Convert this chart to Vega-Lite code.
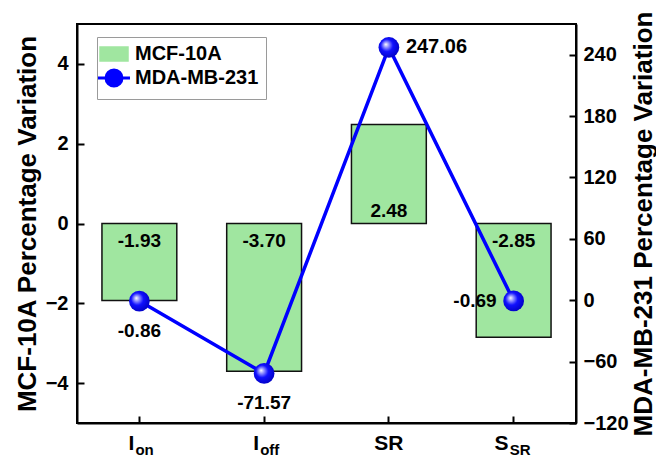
{
  "$schema": "https://vega.github.io/schema/vega-lite/v6.json",
  "width": 499,
  "height": 399,
  "autosize": {"type": "none"},
  "padding": {"left": 77, "top": 24, "right": 80, "bottom": 34},
  "background": "#ffffff",
  "config": {
    "font": "Liberation Sans",
    "view": {"stroke": "#000000", "strokeWidth": 2},
    "axis": {
      "domainColor": "#000000",
      "domainWidth": 2,
      "tickColor": "#000000",
      "tickWidth": 2,
      "tickSize": -7,
      "labelFont": "Liberation Sans",
      "labelFontSize": 20,
      "labelFontWeight": "bold",
      "labelColor": "#000000",
      "titleFont": "Liberation Sans",
      "titleFontSize": 26,
      "titleFontWeight": "bold",
      "titleColor": "#000000",
      "grid": false
    },
    "legend": {
      "orient": "none",
      "legendX": 20,
      "legendY": 13,
      "padding": 7,
      "fillColor": "#ffffff",
      "strokeColor": "#9a9a9a",
      "labelFont": "Liberation Sans",
      "labelFontSize": 20,
      "labelFontWeight": "bold",
      "labelColor": "#000000",
      "labelOffset": 11,
      "labelLimit": 300,
      "rowPadding": 0,
      "symbolSize": 400,
      "symbolOpacity": 1,
      "symbolType": {"expr": "datum.value === 'MCF-10A' ? 'M-1.4,-0.7H1.4V0.7H-1.4Z' : 'M-1.6,0H1.6M0.8,0A0.8,0.8,0,1,1,-0.8,0A0.8,0.8,0,1,1,0.8,0Z'"},
      "symbolFillColor": {"expr": "datum.value === 'MCF-10A' ? '#a0e6a0' : {gradient: 'radial', x1: 0.46, y1: 0.36, r1: 0, x2: 0.5, y2: 0.5, r2: 0.3, stops: [{offset: 0, color: '#ffffff'}, {offset: 0.25, color: '#7070ff'}, {offset: 0.55, color: '#1010ff'}, {offset: 1, color: '#0000c8'}]}"},
      "symbolStrokeColor": {"expr": "datum.value === 'MCF-10A' ? '#111111' : '#0000ff'"},
      "symbolStrokeWidth": {"expr": "datum.value === 'MCF-10A' ? 1.5 : 3"}
    },
    "text": {"font": "Liberation Sans", "fontWeight": "bold", "color": "#000000"}
  },
  "data": {
    "values": [
      {"cat": "Ion", "main": "I", "sub": "on", "mcf": -1.93, "mda": -0.86},
      {"cat": "Ioff", "main": "I", "sub": "off", "mcf": -3.70, "mda": -71.57},
      {"cat": "SR", "main": "SR", "sub": "", "mcf": 2.48, "mda": 247.06},
      {"cat": "SSR", "main": "S", "sub": "SR", "mcf": -2.85, "mda": -0.69}
    ]
  },
  "transform": [
    {"calculate": "replace(format(datum.mcf, '.2f'), '\u2212', '-')", "as": "mcfText"},
    {"calculate": "replace(format(datum.mda, '.2f'), '\u2212', '-')", "as": "mdaText"}
  ],
  "encoding": {
    "x": {
      "field": "cat",
      "type": "nominal",
      "sort": null,
      "scale": {"paddingInner": 0.4, "paddingOuter": 0.2},
      "axis": {"labels": false, "title": null}
    }
  },
  "layer": [
    {
      "mark": {"type": "bar", "stroke": "#111111", "strokeWidth": 1.5, "opacity": 1},
      "encoding": {
        "y": {
          "field": "mcf",
          "type": "quantitative",
          "scale": {"domain": [-5, 5], "nice": false, "zero": false},
          "axis": {
            "orient": "left",
            "values": [-4, -2, 0, 2, 4],
            "title": "MCF-10A Percentage Variation",
            "labelPadding": 16,
            "titlePadding": 5
          }
        },
        "y2": {"datum": 0},
        "color": {
          "datum": "MCF-10A",
          "type": "nominal",
          "scale": {"domain": ["MCF-10A", "MDA-MB-231"], "range": ["#a0e6a0", "#0000ff"]},
          "legend": {"title": null, "zindex": 2}
        }
      }
    },
    {
      "transform": [{"filter": "datum.mcf < 0"}],
      "mark": {"type": "text", "fontSize": 19, "baseline": "alphabetic", "dy": 23},
      "encoding": {
        "y": {"datum": 0, "type": "quantitative", "scale": {"domain": [-5, 5], "nice": false, "zero": false}, "axis": null},
        "text": {"field": "mcfText"}
      }
    },
    {
      "transform": [{"filter": "datum.mcf >= 0"}],
      "mark": {"type": "text", "fontSize": 19, "baseline": "alphabetic", "dy": -7},
      "encoding": {
        "y": {"datum": 0, "type": "quantitative", "scale": {"domain": [-5, 5], "nice": false, "zero": false}, "axis": null},
        "text": {"field": "mcfText"}
      }
    },
    {
      "transform": [{"filter": "datum.sub != ''"}],
      "mark": {"type": "text", "fontSize": 21, "align": "right", "baseline": "alphabetic", "dx": -5, "dy": 27},
      "encoding": {
        "y": {"datum": -5, "type": "quantitative", "scale": {"domain": [-5, 5], "nice": false, "zero": false}, "axis": null},
        "text": {"field": "main"}
      }
    },
    {
      "transform": [{"filter": "datum.sub == ''"}],
      "mark": {"type": "text", "fontSize": 21, "align": "center", "baseline": "alphabetic", "dy": 27},
      "encoding": {
        "y": {"datum": -5, "type": "quantitative", "scale": {"domain": [-5, 5], "nice": false, "zero": false}, "axis": null},
        "text": {"field": "main"}
      }
    },
    {
      "transform": [{"filter": "datum.sub != ''"}],
      "mark": {"type": "text", "fontSize": 15, "align": "left", "baseline": "alphabetic", "dx": -4, "dy": 32},
      "encoding": {
        "y": {"datum": -5, "type": "quantitative", "scale": {"domain": [-5, 5], "nice": false, "zero": false}, "axis": null},
        "text": {"field": "sub"}
      }
    },
    {
      "mark": {"type": "line", "strokeWidth": 3.5},
      "encoding": {
        "y": {
          "field": "mda",
          "type": "quantitative",
          "scale": {"domain": [-120, 270], "nice": false, "zero": false},
          "axis": {
            "orient": "right",
            "values": [-120, -60, 0, 60, 120, 180, 240],
            "title": "MDA-MB-231 Percentage Variation",
            "titleAngle": -90,
            "titleBaseline": "top",
            "labelPadding": 14,
            "titlePadding": 2
          }
        },
        "color": {"datum": "MDA-MB-231", "type": "nominal", "legend": {"title": null, "zindex": 2}}
      }
    },
    {
      "mark": {
        "type": "point",
        "filled": true,
        "size": 430,
        "opacity": 1,
        "strokeWidth": 0,
        "fill": {
          "gradient": "radial",
          "x1": 0.35, "y1": 0.35, "r1": 0,
          "x2": 0.45, "y2": 0.45, "r2": 0.6,
          "stops": [
            {"offset": 0, "color": "#ffffff"},
            {"offset": 0.2, "color": "#9a9aff"},
            {"offset": 0.5, "color": "#1010ff"},
            {"offset": 1, "color": "#0000c0"}
          ]
        }
      },
      "encoding": {
        "y": {"field": "mda", "type": "quantitative", "scale": {"domain": [-120, 270], "nice": false, "zero": false}, "axis": null},
        "shape": {
          "datum": "MCF-10A",
          "type": "nominal",
          "scale": {"domain": ["MDA-MB-231", "MCF-10A"], "range": ["circle", "circle"]},
          "legend": {
            "title": null,
            "zindex": 0,
            "legendX": 27,
            "legendY": 20,
            "fillColor": "#000000",
            "strokeColor": "#000000",
            "labelColor": "#000000",
            "labelExpr": "'                       '",
            "symbolFillColor": "#000000",
            "symbolStrokeColor": "#000000",
            "symbolStrokeWidth": 0
          }
        }
      }
    },
    {
      "transform": [{"filter": "datum.cat == 'Ion' || datum.cat == 'Ioff'"}],
      "mark": {"type": "text", "fontSize": 19, "align": "center", "baseline": "alphabetic", "dy": 36},
      "encoding": {
        "y": {"field": "mda", "type": "quantitative", "scale": {"domain": [-120, 270], "nice": false, "zero": false}, "axis": null},
        "text": {"field": "mdaText"}
      }
    },
    {
      "transform": [{"filter": "datum.cat == 'SR'"}],
      "mark": {"type": "text", "fontSize": 20, "align": "left", "baseline": "middle", "dx": 17},
      "encoding": {
        "y": {"field": "mda", "type": "quantitative", "scale": {"domain": [-120, 270], "nice": false, "zero": false}, "axis": null},
        "text": {"field": "mdaText"}
      }
    },
    {
      "transform": [{"filter": "datum.cat == 'SSR'"}],
      "mark": {"type": "text", "fontSize": 19, "align": "right", "baseline": "middle", "dx": -17},
      "encoding": {
        "y": {"field": "mda", "type": "quantitative", "scale": {"domain": [-120, 270], "nice": false, "zero": false}, "axis": null},
        "text": {"field": "mdaText"}
      }
    }
  ],
  "resolve": {"scale": {"y": "independent"}}
}
